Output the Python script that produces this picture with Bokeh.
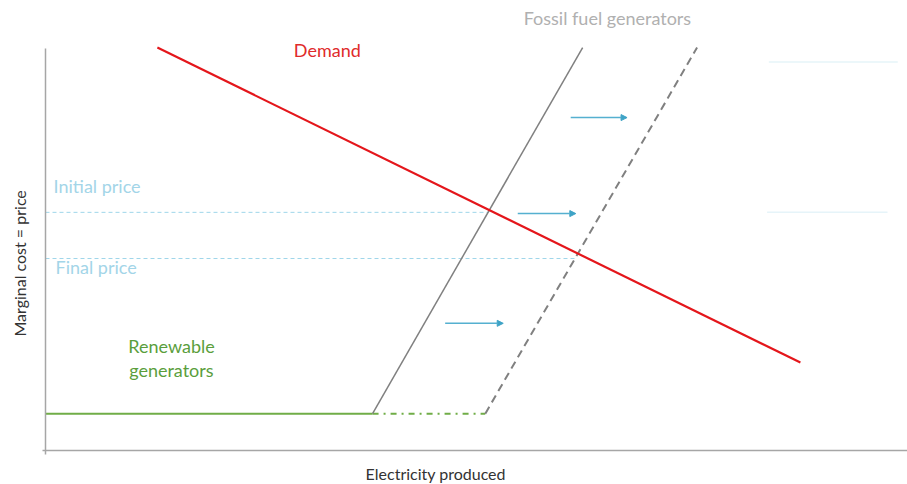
import math
from bokeh.plotting import figure
from bokeh.models import Range1d, Label, Arrow, NormalHead, FixedTicker, LinearAxis
from bokeh.embed import file_html
from bokeh.resources import INLINE

# ---- data (arbitrary units: quantity 0-100, price 0-100) ----
demand_q = [13.1, 88.4]
demand_p = [99.5, 21.7]
fossil_q = [38.3, 62.9]
fossil_p = [9.1, 99.5]
fossil_shift_q = [51.5, 76.3]
fossil_shift_p = [9.1, 99.5]
renew_q = [0.0, 38.3]
renew_p = [9.1, 9.1]
renew_ext_q = [38.3, 51.5]
renew_ext_p = [9.1, 9.1]
price_levels = [58.8, 47.4]          # initial, final
price_ends_q = [51.9, 62.1]
price_names = ["Initial price", "Final price"]
arrow_x0 = [61.5, 55.3, 46.8]
arrow_x1 = [68.1, 62.1, 53.6]
arrow_y = [82.2, 58.5, 31.4]
faint_y = [95.9, 58.8]
faint_x0 = [84.7, 84.5]
faint_x1 = [99.8, 98.6]

FONT = "Lato"

p = figure(width=907, height=484, output_backend="svg", toolbar_location=None,
           x_range=Range1d(-5.27, 100.94), y_range=Range1d(-8.40, 111.11),
           x_axis_location=None, y_axis_location=None,
           min_border=0)
p.grid.visible = False
p.outline_line_color = None
p.background_fill_color = "white"
p.border_fill_color = "white"

xax = LinearAxis(fixed_location=0, bounds=(-0.3, 100.94))
yax = LinearAxis(fixed_location=0, bounds=(-1, 99.3))
for ax in (xax, yax):
    ax.ticker = FixedTicker(ticks=[])
    ax.major_tick_out = 0
    ax.major_tick_in = 0
    ax.minor_tick_out = 0
    ax.minor_tick_in = 0
    ax.major_label_text_font_size = "0px"
    ax.axis_line_color = "#a6a6a6"
    ax.axis_line_width = 1.5
p.add_layout(xax, "below")
p.add_layout(yax, "left")

# faint artefact lines top-right
for y, a, b in zip(faint_y, faint_x0, faint_x1):
    p.line([a, b], [y, y], line_color="#e6f4f9", line_width=1.5)

# price lines
for y, q in zip(price_levels, price_ends_q):
    p.line([0, q], [y, y], line_color="#9fd6ea", line_width=1, line_dash="4 3")

# renewable supply
p.line(renew_q, renew_p, line_color="#70ad47", line_width=2)
p.line(renew_ext_q, renew_ext_p, line_color="#70ad47", line_width=2, line_dash="6 5 2 5")

# fossil supply
p.line(fossil_q, fossil_p, line_color="#808080", line_width=1.5)
p.line(fossil_shift_q, fossil_shift_p, line_color="#808080", line_width=2, line_dash="8 5")

# demand
p.line(demand_q, demand_p, line_color="#e4161b", line_width=2.2)

# arrows
for a, b, y in zip(arrow_x0, arrow_x1, arrow_y):
    p.add_layout(Arrow(end=NormalHead(size=6, fill_color="#3ea3c6", line_color="#3ea3c6"),
                       x_start=a, y_start=y, x_end=b, y_end=y,
                       line_color="#55b0d0", line_width=1.5))

# text labels
def lab(x, y, t, color, align="left", size="18px", angle=0.0):
    p.add_layout(Label(x=x, y=y, text=t, text_color=color, text_font=FONT,
                       text_font_size=size, text_align=align, text_baseline="middle",
                       angle=angle))

lab(33.0, 98.8, "Demand", "#e02b2b", "center")
lab(65.8, 106.7, "Fossil fuel generators", "#b0b0b0", "center")
lab(0.94, 65.2, price_names[0], "#a3d5e8")
lab(1.17, 45.2, price_names[1], "#a3d5e8")
lab(9.7, 25.7, "Renewable", "#5a9e3c")
lab(9.8, 19.8, "generators", "#5a9e3c")
lab(45.7, -5.7, "Electricity produced", "#333333", "center", size="16px")
lab(-3.05, 46.2, "Marginal cost = price", "#333333", "center", size="16px", angle=math.pi / 2)

open("out.html", "w").write(file_html(p, INLINE))
